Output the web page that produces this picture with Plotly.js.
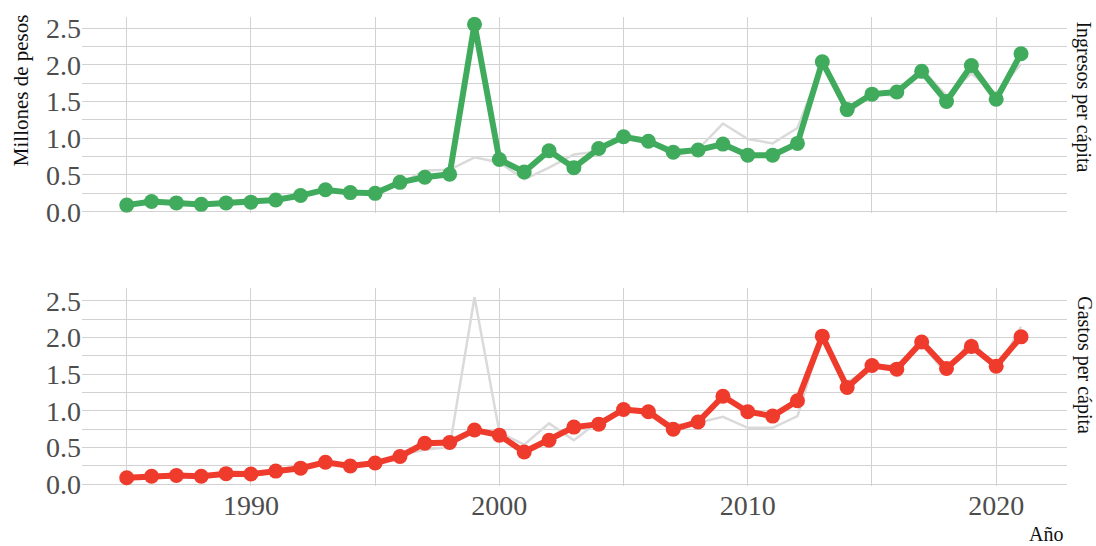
<!DOCTYPE html>
<html>
<head>
<meta charset="utf-8">
<script src="https://cdn.plot.ly/plotly-3.0.1.min.js"></script>
<style>html,body{margin:0;padding:0;background:#fff;}#chart{width:1096px;height:546px;}</style>
</head>
<body>
<div id="chart"></div>
<script>
const years = [1985,1986,1987,1988,1989,1990,1991,1992,1993,1994,1995,1996,1997,1998,1999,2000,2001,2002,2003,2004,2005,2006,2007,2008,2009,2010,2011,2012,2013,2014,2015,2016,2017,2018,2019,2020,2021];
const ingresos = [0.09,0.14,0.12,0.10,0.12,0.13,0.16,0.22,0.30,0.26,0.25,0.40,0.47,0.51,2.55,0.71,0.54,0.83,0.60,0.86,1.02,0.96,0.81,0.84,0.92,0.77,0.77,0.93,2.04,1.39,1.60,1.63,1.91,1.50,1.99,1.53,2.15];
const gastos = [0.09,0.11,0.12,0.11,0.145,0.14,0.18,0.22,0.30,0.25,0.29,0.38,0.56,0.57,0.74,0.67,0.44,0.60,0.78,0.82,1.02,0.99,0.75,0.85,1.20,0.99,0.93,1.14,2.02,1.32,1.62,1.57,1.94,1.58,1.88,1.61,2.01];
const panelLabels = ["Ingresos per cápita", "Gastos per cápita"];
const yTitle = "Millones de pesos";
const xTitle = "Año";
const xTickVals = [1985,1990,1995,2000,2005,2010,2015,2020];
const xTickText = ["","1990","","2000","","2010","","2020"];
const yTickVals = [0,0.25,0.5,0.75,1,1.25,1.5,1.75,2,2.25,2.5];
const yTickText = ["0.0","","0.5","","1.0","","1.5","","2.0","","2.5"];

const green = "#41ab5d", red = "#ef3b2c", grey = "#dadada";
const serif = "Liberation Serif, serif";
const gridColor = "#d2d2d2";

const traces = [
  {x: years, y: gastos, mode: "lines", line: {color: grey, width: 2.5}, xaxis: "x", yaxis: "y", hoverinfo: "skip"},
  {x: years, y: ingresos, mode: "lines+markers", line: {color: green, width: 6}, marker: {color: green, size: 15}, xaxis: "x", yaxis: "y"},
  {x: years, y: ingresos, mode: "lines", line: {color: grey, width: 2.5}, xaxis: "x2", yaxis: "y2", hoverinfo: "skip"},
  {x: years, y: gastos, mode: "lines+markers", line: {color: red, width: 6}, marker: {color: red, size: 15}, xaxis: "x2", yaxis: "y2"}
];

function xax(showLabels) {
  return {
    range: [1983.2, 2022.85], tickmode: "array", tickvals: xTickVals, ticktext: xTickText, showticklabels: showLabels,
    showgrid: true, gridcolor: gridColor, gridwidth: 1, zeroline: false, showline: false, ticks: "",
    tickfont: {family: serif, size: 28, color: "#4d4d4d"}
  };
}
function yax(domain, range) {
  return {
    domain: domain, range: range, tickmode: "array", tickvals: yTickVals, ticktext: yTickText,
    showgrid: true, gridcolor: gridColor, gridwidth: 1, zeroline: false, showline: false, ticks: "",
    tickfont: {family: serif, size: 28, color: "#4d4d4d"}
  };
}

const layout = {
  width: 1096, height: 546,
  margin: {l: 82, r: 29, t: 17, b: 60},
  paper_bgcolor: "#fff", plot_bgcolor: "#fff",
  showlegend: false,
  xaxis: Object.assign(xax(false), {anchor: "y"}),
  yaxis: Object.assign(yax([0.582, 1], [-0.018, 2.65]), {anchor: "x"}),
  xaxis2: Object.assign(xax(true), {anchor: "y2"}),
  yaxis2: Object.assign(yax([0, 0.422], [-0.023, 2.675]), {anchor: "x2"}),
  annotations: [
    {text: yTitle, xref: "paper", yref: "paper", x: -0.0619, y: 0.844, xanchor: "center", yanchor: "middle", textangle: -90, showarrow: false, font: {family: serif, size: 21, color: "#111"}},
    {text: panelLabels[0], xref: "paper", yref: "paper", x: 1.017, y: 0.829, xanchor: "center", yanchor: "middle", textangle: 90, showarrow: false, font: {family: serif, size: 20, color: "#111"}},
    {text: panelLabels[1], xref: "paper", yref: "paper", x: 1.017, y: 0.258, xanchor: "center", yanchor: "middle", textangle: 90, showarrow: false, font: {family: serif, size: 20, color: "#111"}},
    {text: xTitle, xref: "paper", yref: "paper", x: 0.998, y: -0.103, xanchor: "right", yanchor: "middle", showarrow: false, font: {family: serif, size: 20, color: "#111"}}
  ]
};

Plotly.newPlot("chart", traces, layout, {displayModeBar: false, staticPlot: true});
</script>
</body>
</html>
